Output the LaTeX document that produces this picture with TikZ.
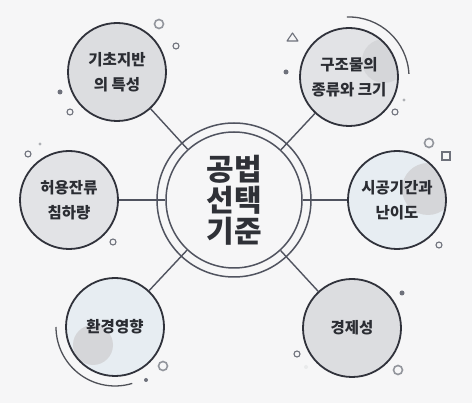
\documentclass[tikz,border=0pt]{standalone}
\usepackage{fontspec}
\setmainfont{Noto Sans CJK KR}
\usetikzlibrary{calc}

\definecolor{bg}{HTML}{F6F6F7}
\definecolor{ringdark}{HTML}{30323B}
\definecolor{linegray}{HTML}{50535F}
\definecolor{txt}{HTML}{2B2D33}
\definecolor{satgray}{HTML}{DCDDE0}
\definecolor{satgraylight}{HTML}{E2E3E6}
\definecolor{satblue}{HTML}{E7EDF2}
\definecolor{blobgray}{HTML}{D5D6D9}
\definecolor{deco}{HTML}{6E717B}

\begin{document}
\begin{tikzpicture}[x=1pt,y=-1pt,
  sat/.style={circle, draw=ringdark, line width=1.8pt, minimum size=98pt, inner sep=0pt,
    align=center, text=txt, font=\bfseries\fontsize{15.5}{25}\selectfont},
  conn/.style={draw=linegray, line width=1.4pt},
  ring/.style={draw=deco, line width=1.1pt},
  bigring/.style={draw=deco!75, line width=1.6pt},
  dot/.style={fill=deco},
  arcline/.style={draw=ringdark!85, line width=1.3pt}]

%background
\fill[bg] (0,0) rectangle (472,403);

%center
\node[circle, draw=linegray, line width=1.5pt, minimum size=154pt] (outer) at (234,200) {};
\node[circle, draw=linegray, line width=1.5pt, minimum size=136pt, inner sep=0pt,
  align=center, text=txt!90!linegray, font=\bfseries\fontsize{30}{31}\selectfont]
  (inner) at (234,200) {공법\\선택\\기준};

%satellites
\node[sat, fill=satgray] (base) at (117,72) {기초지반\\의 특성};
\node[sat, fill=satgraylight,
  path picture={\fill[blobgray] ($(path picture bounding box.center)+(35,-16)$) circle[radius=22];}]
  (struct) at (349,77) {구조물의\\종류와 크기};
\node[sat, fill=satblue,
  path picture={\fill[blobgray] ($(path picture bounding box.center)+(31,-11)$) circle[radius=26];}]
  (period) at (397,200) {시공기간과\\난이도};
\node[sat, fill=satgray] (cost) at (352,328) {경제성};
\node[sat, fill=satblue,
  path picture={\fill[blobgray] ($(path picture bounding box.center)+(-22,18)$) circle[radius=20];}]
  (env) at (115,327) {환경영향};
\node[sat, fill=satgraylight] (settle) at (69,200) {허용잔류\\침하량};

%connectors
\draw[conn] (inner) -- (base);
\draw[conn] (inner) -- (struct);
\draw[conn] (inner) -- (period);
\draw[conn] (inner) -- (cost);
\draw[conn] (inner) -- (env);
\draw[conn] (inner) -- (settle);

%arcs
\draw[arcline] (struct.center) ++(-92:60) arc[start angle=-92, end angle=-3, radius=60];
\draw[arcline] (env.center) ++(73:59) arc[start angle=73, end angle=180, radius=59];

%rings and dots
\foreach \p in {(159,24),(429,143),(163,366),(398,370)}
  \draw[bigring] \p circle[radius=4.5];
\foreach \p in {(176,46),(70,112),(28,154),(395,112),(113,242),(439,245),(297,354)}
  \draw[ring] \p circle[radius=3];
\foreach \p in {(60,92),(286,72),(402,293)}
  \fill[dot] \p circle[radius=2.5];
\fill[dot] (146,380) circle[radius=2];
\fill[deco!55] (40,144) circle[radius=1.6];
\fill[deco!55] (404,100) circle[radius=1.6];
\fill[deco!15] (306,367) circle[radius=2];
\draw[ring, line join=round] (287,41) -- (298,41) -- (292.5,33) -- cycle;
\draw[ring] (442,152) rectangle (450,160);

\end{tikzpicture}
\end{document}
